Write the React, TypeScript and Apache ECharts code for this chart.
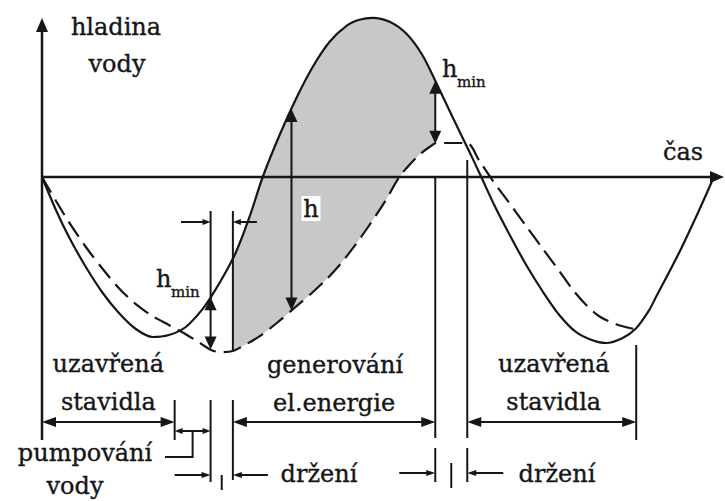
import React, { useEffect, useRef } from "react";
import * as echarts from "echarts";

// Sea level over the tidal cycle: time in hours, level in metres (0 = mean sea level)
const seaTime = [
  0, 0.39, 0.75, 1.22, 1.69, 2.14, 2.61, 3.08, 3.53, 4.0, 4.47, 4.75, 5.14, 5.42, 5.78,
  6.14, 6.61, 7.08, 7.53, 8.0, 8.47, 8.83, 9.19, 9.67, 10.14, 10.58, 10.97, 11.42, 11.89,
  12.22, 12.58, 13.0, 13.47, 13.92, 14.39, 14.86, 15.31, 15.69, 16.14, 16.53, 16.89,
  17.08, 17.72, 18.28, 18.69,
];
const seaLevel = [
  0, -0.83, -1.5, -2.25, -2.9, -3.4, -3.8, -4.0, -3.95, -3.75, -3.3, -2.93, -2.33, -1.83,
  -0.98, 0, 1.05, 1.98, 2.75, 3.38, 3.78, 3.93, 3.98, 3.88, 3.58, 3.05, 2.35, 1.5, 0.63, 0,
  -0.7, -1.43, -2.2, -2.85, -3.45, -3.88, -4.08, -4.15, -4.03, -3.78, -3.33, -3.0, -1.9,
  -0.83, 0,
];

// Water level in the basin behind the barrage
const basinTime = [
  0, 0.39, 0.75, 1.22, 1.69, 2.14, 2.61, 3.08, 3.53, 4.0, 4.36, 4.72, 5.0, 5.31, 5.64,
  6.06, 6.53, 7.08, 7.53, 7.92, 8.28, 8.69, 9.11, 9.53, 9.94, 10.25, 10.53, 10.78, 10.97,
  11.81, 12.17, 12.53, 13.0, 13.47, 13.92, 14.39, 14.75, 15.14, 15.5, 15.97, 16.47,
];
const basinLevel = [
  0, -0.6, -1.13, -1.75, -2.3, -2.78, -3.18, -3.48, -3.7, -3.93, -4.13, -4.33, -4.38,
  -4.35, -4.2, -3.98, -3.65, -3.23, -2.88, -2.55, -2.2, -1.73, -1.2, -0.63, 0, 0.33, 0.58,
  0.75, 0.85, 0.85, 0.4, -0.08, -0.65, -1.23, -1.78, -2.35, -2.8, -3.2, -3.48, -3.68,
  -3.8,
];

// Operating phase boundaries (h): closed gates | pumping | holding | generating | holding | closed gates
const phaseBounds = [0, 3.69, 4.69, 5.31, 10.94, 11.83, 16.53];
// Time at which the head h is marked
const headTime = 6.94;

const INK = "#161616";
const FONT = '"DejaVu Serif", serif';

function interp(ts: number[], ls: number[], t: number): number {
  for (let i = 0; i < ts.length - 1; i++) {
    if (t <= ts[i + 1]) {
      const f = (t - ts[i]) / (ts[i + 1] - ts[i]);
      return ls[i] + (ls[i + 1] - ls[i]) * f;
    }
  }
  return ls[ls.length - 1];
}

function segment(ts: number[], ls: number[], t0: number, t1: number): number[][] {
  const pts: number[][] = [[t0, interp(ts, ls, t0)]];
  ts.forEach((t, i) => {
    if (t > t0 && t < t1) pts.push([t, ls[i]]);
  });
  pts.push([t1, interp(ts, ls, t1)]);
  return pts;
}

export default function App() {
  const ref = useRef<HTMLDivElement>(null);

  useEffect(() => {
    document.body.style.margin = "0";
    const chart = echarts.init(ref.current!, null, { renderer: "svg" });
    const genStart = phaseBounds[3];
    const genEnd = phaseBounds[4];

    chart.setOption({
      animation: false,
      grid: { left: 42, top: 17, width: 684, height: 480 },
      xAxis: { type: "value", min: 0, max: 19, show: false },
      yAxis: { type: "value", min: -8, max: 4, show: false },
      series: [
        {
          // head between sea and basin while generating
          type: "custom",
          z: 1,
          silent: true,
          data: [[genStart, 0]],
          renderItem: (_p: any, api: any) => {
            const upper = segment(seaTime, seaLevel, genStart, genEnd);
            const lower = segment(basinTime, basinLevel, genStart, genEnd).reverse();
            const points = [...upper, ...lower].map((p) => api.coord(p));
            return { type: "polygon", shape: { points }, style: { fill: "#c8c8c8" } };
          },
        },
        {
          type: "line",
          z: 3,
          silent: true,
          showSymbol: false,
          smooth: 0.3,
          data: seaTime.map((t, i) => [t, seaLevel[i]]),
          lineStyle: { color: INK, width: 2.2 },
        },
        {
          type: "line",
          z: 3,
          silent: true,
          showSymbol: false,
          smooth: 0.3,
          data: basinTime.map((t, i) => [t, basinLevel[i]]),
          lineStyle: { color: INK, width: 2.2, type: [18, 8] },
        },
      ],
    });

    const X = (t: number) => chart.convertToPixel({ xAxisIndex: 0 }, t) as number;
    const Y = (l: number) => chart.convertToPixel({ yAxisIndex: 0 }, l) as number;
    const xb = phaseBounds.map(X);
    const x0 = X(0);
    const y0 = Y(0);

    const els: any[] = [];
    const line = (x1: number, y1: number, x2: number, y2: number, w = 2) =>
      els.push({
        type: "line",
        silent: true,
        z: 20,
        shape: { x1, y1, x2, y2 },
        style: { stroke: INK, lineWidth: w },
      });
    const head = (tx: number, ty: number, dx: number, dy: number, len: number, wid: number) => {
      const bx = tx - dx * len;
      const by = ty - dy * len;
      const nx = -dy;
      const ny = dx;
      els.push({
        type: "polygon",
        silent: true,
        z: 21,
        shape: {
          points: [
            [tx, ty],
            [bx + (nx * wid) / 2, by + (ny * wid) / 2],
            [bx - (nx * wid) / 2, by - (ny * wid) / 2],
          ],
        },
        style: { fill: INK },
      });
    };
    const text = (s: string, x: number, y: number, size = 24, align = "center") =>
      els.push({
        type: "text",
        silent: true,
        z: 30,
        x,
        y,
        style: {
          text: s,
          fontSize: size,
          fontFamily: FONT,
          fill: INK,
          stroke: INK,
          lineWidth: 0.35,
          align,
          verticalAlign: "middle",
        },
      });
    const dArrowV = (x: number, yTop: number, yBot: number, len: number, wid: number) => {
      line(x, yTop + len - 1, x, yBot - len + 1);
      head(x, yTop, 0, -1, len, wid);
      head(x, yBot, 0, 1, len, wid);
    };
    const dArrowH = (xL: number, xR: number, y: number, len: number, wid: number) => {
      line(xL + len - 1, y, xR - len + 1, y);
      head(xL, y, -1, 0, len, wid);
      head(xR, y, 1, 0, len, wid);
    };

    // axes
    line(x0, 440, x0, 30, 2.5);
    head(x0, 18, 0, -1, 14, 12);
    line(x0, y0, 712, y0, 2.5);
    head(724, y0, 1, 0, 14, 12);

    // phase boundary lines
    const seaAtB2 = Y(interp(seaTime, seaLevel, phaseBounds[2]));
    line(xb[1], 400, xb[1], 440);
    line(xb[2], 211, xb[2], seaAtB2 + 12);
    line(xb[2], 400, xb[2], 482);
    line(xb[3], 211, xb[3], Y(interp(basinTime, basinLevel, phaseBounds[3])));
    line(xb[3], 400, xb[3], 480);
    const mid23 = (xb[2] + xb[3]) / 2;
    line(mid23, 475, mid23, 490);
    line(xb[4], y0, xb[4], 438);
    line(xb[4], 448, xb[4], 482);
    line(xb[5], 160, xb[5], 438);
    line(xb[5], 448, xb[5], 482);
    const mid45 = (xb[4] + xb[5]) / 2;
    line(mid45, 463, mid45, 488);
    line(xb[6], 345, xb[6], 440);

    // pumping-to-generation gap markers
    line(181, 222, xb[2] - 7, 222);
    head(xb[2], 222, 1, 0, 8, 6);
    line(xb[3] + 7, 222, xb[3] + 24, 222);
    head(xb[3], 222, -1, 0, 8, 6);

    // minimum head arrows
    dArrowV(xb[2], seaAtB2, Y(interp(basinTime, basinLevel, phaseBounds[2])), 13, 12);
    dArrowV(
      xb[4],
      Y(interp(seaTime, seaLevel, phaseBounds[4])),
      Y(interp(basinTime, basinLevel, phaseBounds[4])),
      13,
      12
    );

    // head h
    const xh = X(headTime);
    dArrowV(
      xh,
      Y(interp(seaTime, seaLevel, headTime)),
      Y(interp(basinTime, basinLevel, headTime)),
      13,
      12
    );
    els.push({
      type: "rect",
      silent: true,
      z: 25,
      shape: { x: xh + 10, y: 196, width: 19, height: 25 },
      style: { fill: "#ffffff" },
    });
    text("h", xh + 19.5, 209);

    // phase dimension arrows
    dArrowH(xb[0], xb[1], 422, 14, 10);
    dArrowH(xb[3], xb[4], 422, 14, 10);
    dArrowH(xb[5], xb[6], 422, 14, 10);
    dArrowH(xb[1], xb[2], 431, 8, 6);
    const mid12 = (xb[1] + xb[2]) / 2;
    els.push({
      type: "polyline",
      silent: true,
      z: 20,
      shape: { points: [[mid12, 431], [mid12, 457], [165, 457]] },
      style: { stroke: INK, lineWidth: 2, fill: "none" },
    });

    // holding arrows
    line(xb[1], 475, xb[2] - 7, 475);
    head(xb[2], 475, 1, 0, 9, 6);
    line(xb[3] + 7, 475, xb[3] + 35, 475);
    head(xb[3], 475, -1, 0, 9, 6);
    line(xb[4] - 36, 473, xb[4] - 7, 473);
    head(xb[4], 473, 1, 0, 9, 6);
    line(xb[5] + 7, 473, xb[5] + 36, 473);
    head(xb[5], 473, -1, 0, 9, 6);

    // labels
    text("hladina", 116, 27);
    text("vody", 117, 64);
    text("čas", 683, 152);
    text("h", 156, 279, 24, "left");
    text("min", 171, 292, 15, "left");
    text("h", 442, 69, 24, "left");
    text("min", 457, 82, 15, "left");
    text("uzavřená", (xb[0] + xb[1]) / 2, 364);
    text("stavidla", (xb[0] + xb[1]) / 2, 402);
    text("generování", (xb[3] + xb[4]) / 2 + 1, 365);
    text("el.energie", (xb[3] + xb[4]) / 2, 403);
    text("uzavřená", (xb[5] + xb[6]) / 2 + 2, 364);
    text("stavidla", (xb[5] + xb[6]) / 2 + 2, 402);
    text("pumpování", 85, 453);
    text("vody", 75, 486);
    text("držení", 319, 474);
    text("držení", 557, 474);

    chart.setOption({ graphic: { elements: els } });
    return () => chart.dispose();
  }, []);

  return (
    <div
      ref={ref}
      style={{ position: "fixed", left: 0, top: 0, width: 725, height: 501, background: "#fff" }}
    />
  );
}
